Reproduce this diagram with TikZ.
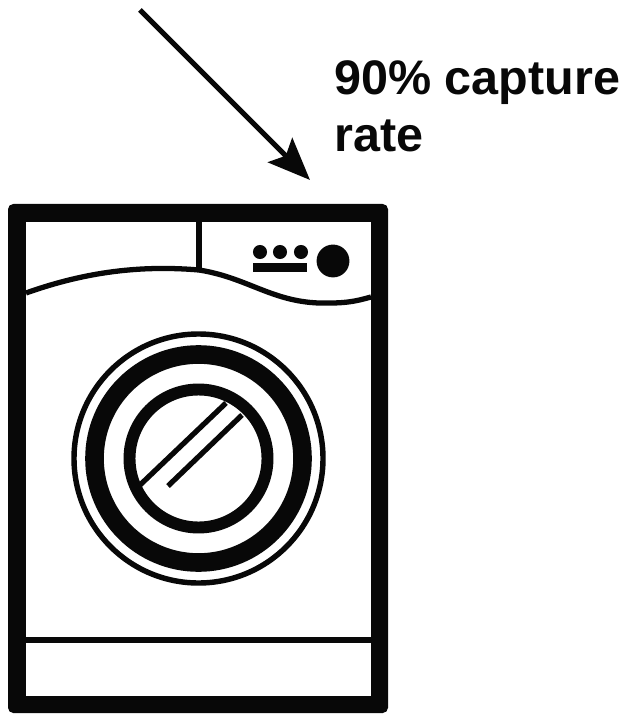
\documentclass[tikz,border=0pt]{standalone}
\usepackage{fontspec}
\setmainfont{Liberation Sans}
\usetikzlibrary{positioning,calc}
\usetikzlibrary{arrows.meta}
\definecolor{WasherBlack}{RGB}{8,8,8}
\tikzset{
  shell/.style={fill=WasherBlack,rounded corners=3pt},
  panel/.style={draw=WasherBlack,line width=3pt},
  knob/.style={circle,fill=WasherBlack,inner sep=0pt},
  ring/.style={draw=WasherBlack,fill=none},
  flow/.style={draw=WasherBlack,line width=3pt,-{Stealth[length=24pt,width=19.5pt,inset=4.5pt]}},
  lab/.style={inner sep=0pt,anchor=base west,font=\bfseries\fontsize{27.6}{27.6}\selectfont,text=WasherBlack},
}

\begin{document}
\begin{tikzpicture}[x=0.02cm,y=-0.02cm]
\useasboundingbox (0,0) rectangle (624,715);
\coordinate (tail) at (140,10);
\coordinate (tip) at (310,180);
\coordinate (drum) at (198.5,458.5);
% cabinet
\fill[shell] (8,204) rectangle (388,713);
\fill[white] (26,222) rectangle (371,696);
\draw[panel] (199,222)--(199,270);
\draw[panel] (26,293) .. controls (85,272) and (140,265) .. (199,270) .. controls (250,278) and (275,305) .. (330,303) .. controls (350,303) and (360,300) .. (371,297);
\draw[draw=WasherBlack,line width=3.6pt] (26,640)--(371,640);
% controls
\node[knob,minimum size=8pt] (dota) at (260,252) {};
\node[knob,minimum size=8pt] (dotb) at (280,252) {};
\node[knob,minimum size=8pt] (dotc) at (301,252) {};
\node[knob,minimum size=18.7pt] (dial) at (333,261) {};
\fill[WasherBlack] (253,263) rectangle (307,272);
% door
\draw[ring,line width=3.1pt] (drum) circle[radius=124.5];
\draw[ring,line width=10.6pt] (drum) circle[radius=104];
\draw[ring,line width=6.8pt] (drum) circle[radius=69];
\draw[panel] (226,403)--(140,485);
\draw[panel] (242,415)--(168,486);
% label
\draw[flow] (tail)--(tip);
\node[lab] (rate1) at (334,95) {90\% capture};
\node[lab] (rate2) at (334,152) {rate};
\end{tikzpicture}
\end{document}
